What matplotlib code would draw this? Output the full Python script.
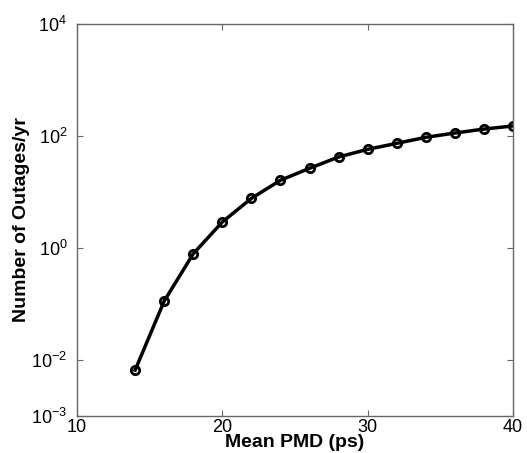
import matplotlib.pyplot as plt

# mean PMD (ps) vs outages per year
pmd = [14, 16, 18, 20, 22, 24, 26, 28, 30, 32, 34, 36, 38, 40]
outages = [0.0066, 0.113, 0.79, 2.91, 7.7, 16.2, 26.5, 42.2, 57.8, 74.0, 94.7, 113.0, 133.0, 151.0]

yticks = [1e-3, 1e-2, 1e0, 1e2, 1e4]
ytick_labels = ['$10^{-3}$', '$10^{-2}$', '$10^{0}$', '$10^{2}$', '$10^{4}$']
xticks = [10, 20, 30, 40]

plt.rcParams['font.family'] = ['Liberation Sans', 'DejaVu Sans']
plt.rcParams['mathtext.fontset'] = 'custom'
plt.rcParams['mathtext.rm'] = 'Liberation Sans'
plt.rcParams['mathtext.it'] = 'Liberation Sans'

fig = plt.figure(figsize=(5.27, 4.53), dpi=100)
ax = fig.add_axes([77 / 527, 1 - 416 / 453, (513 - 77) / 527, (416 - 24) / 453])

ax.plot(pmd, outages, color='black', linewidth=2.5, marker='o',
        markersize=6, markerfacecolor='none', markeredgewidth=2, markeredgecolor='black')

ax.set_yscale('log')
ax.set_xlim(10, 40)
ax.set_ylim(1e-3, 1e4)
ax.set_yticks(yticks)
ax.set_yticklabels(ytick_labels)
ax.minorticks_off()
ax.set_xticks(xticks)

for s in ax.spines.values():
    s.set_color('#666666')
    s.set_linewidth(1)
ax.tick_params(direction='in', length=4, width=0.8, color='#666666',
               labelsize=13, top=True, right=True)
ax.tick_params(axis='x', pad=2)
ax.tick_params(axis='y', pad=7)

ax.set_xlabel('Mean PMD (ps)', fontsize=14, fontweight='bold', labelpad=-1)
ax.set_ylabel('Number of Outages/yr', fontsize=14, fontweight='bold', labelpad=1)

fig.savefig('out.png', dpi=100)
